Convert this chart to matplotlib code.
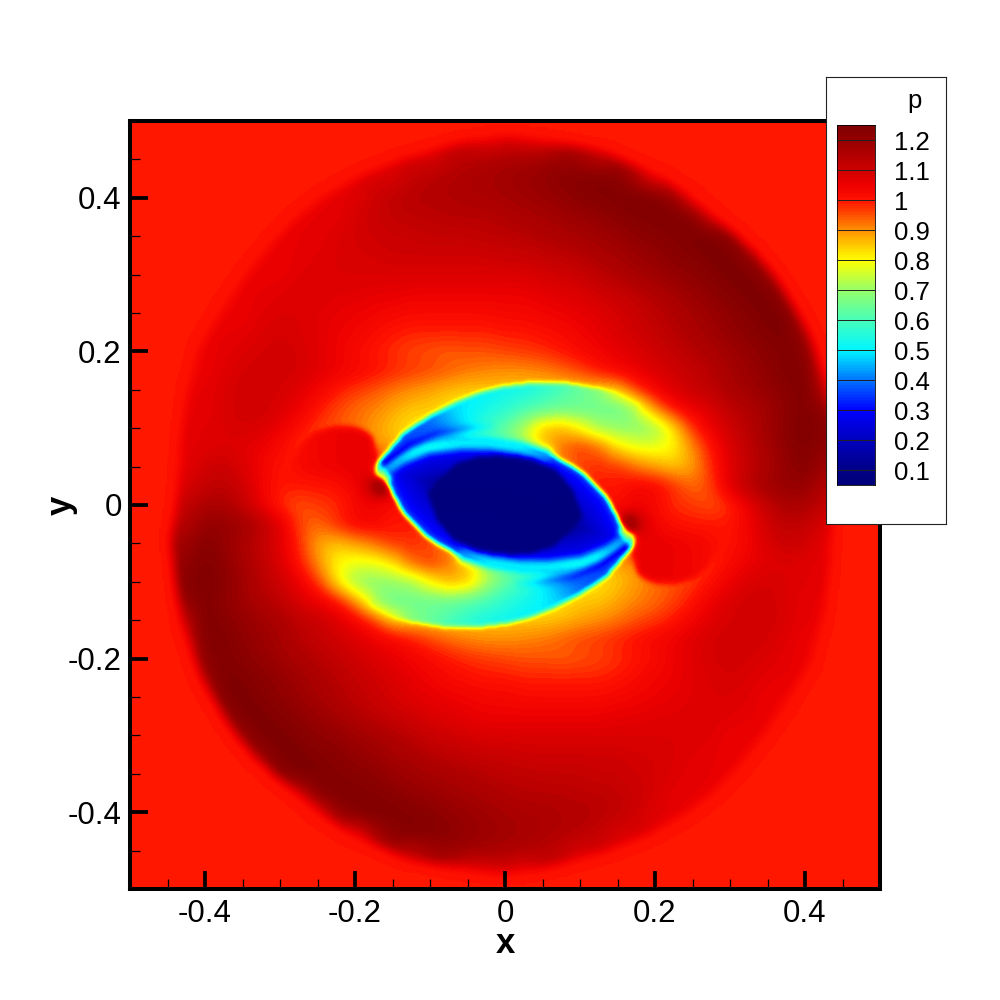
import numpy as np
import matplotlib
matplotlib.use("Agg")
import matplotlib.pyplot as plt
from matplotlib.colors import LinearSegmentedColormap
from matplotlib.path import Path
from matplotlib.ticker import FixedLocator

plt.rcParams['font.family'] = ['Liberation Sans', 'DejaVu Sans']
plt.rcParams['axes.unicode_minus'] = False

# ---- values ----
# outer pressure x100 on a 0.025 grid, x = -0.5 ... 0.5, upper half of the domain
y500 = [100]*41
y475 = [100]*18+[101,105,108,107,105,102]+[100]*17
y450 = [100]*15+[103,108,112,114,115,116,117,118,119,117,112,104]+[100]*14
y425 = [100]*13+[104,108,112,114,115,116,117,118,119,120,122,123,124,122,115,105]+[100]*12
y400 = [100]*11+[103,107,110,113,114,115,115,116,116,117,118,119,120,122,123,124,125,124,118,105]+[100]*10
y375 = [100]*10+[103,106,109,111,112,113,113,114,114,114,115,116,117,118,119,120,122,123,124,125,122,108]+[100]*9
y350 = [100]*8+[101,104,106,108,109,110,111,111,112,112,112,113,113,114,115,116,117,118,119,121,122,123,125,125,120,102]+[100]*7
y325 = [100]*7+[101,104,106,107,108,109,109,110,110,110,110,110,110,111,111,112,113,114,116,117,119,120,122,123,125,125,118,103]+[100]*6
y300 = [100]*7+[103,105,107,108,108,108,108,108,108,108,108,108,108,108,108,109,110,111,113,115,117,118,120,121,123,125,125,118,102]+[100]*5
y275 = [100]*6+[104,106,107,108,108,107,107,106,106,105,105,105,105,105,105,105,106,107,108,110,111,113,115,117,119,121,123,125,125,117,102]+[100]*4
y250 = [100]*5+[102,105,107,108,108,107,106,105,104,103,102,102,102,102,102,103,103,104,105,106,107,109,111,113,115,117,119,121,123,125,124,110]+[100]*4
y225 = [100]*4+[101,104,106,108,109,108,107,105,104,102,100,99,99,99,99,99,100,100,101,102,104,106,108,110,112,114,116,118,120,122,124,125,117,101]+[100]*3
y200 = [100]*3+[100,103,106,108,109,110,109,107,105,102,100,98,96,95,94,95,95,96,97,98,100,102,104,106,108,110,112,114,116,118,120,122,124,122,106]+[100]*3
y175 = [100]*3+[101,105,107,109,110,110,109,107,105,103,101,99,97,96,94,92,91,90,90,91,93,96,100,103,105,108,110,112,114,117,119,121,124,124,110]+[100]*3
y150 = [100]*3+[103,106,108,110,110,109,107,104,100,97,95,92,90,88,86,85,85,85,85,85,85,85,85,85,97,103,108,111,113,116,118,120,122,125,112]+[100]*3
y125 = [100]*3+[102,106,108,110,110,108,105,100,96,93,91,88,85,85,82,80,80,80,80,80,80,78,65,65,72,90,100,105,108,113,115,118,121,124,120,101]+[100]*2
y100 = [100]*3+[103,107,108,109,108,105,101,97,95,93,89,85,82,80,80,80,80,80,80,80,80,78,72,70,68,69,82,97,105,110,114,118,122,125,122,102]+[100]*2
y075 = [100]*3+[104,107,108,107,105,102,98,97,95,93,90,88,85,85,85,85,85,85,85,85,88,96,92,82,78,78,80,90,100,108,113,117,121,124,120,101]+[100]*2
y050 = [100]*3+[106,110,111,108,104,100,102,104,105,106,105,103,100,100,100,100,100,100,98,97,97,97,97,98,92,88,85,88,98,107,112,116,120,123,118,101]+[100]*2
y025 = [100]*3+[108,112,113,110,104,100,100,100,101,104,112,112,108,106,105,105,105,105,105,105,100,100,100,100,103,103,98,93,96,107,114,118,120,120,114,100]+[100]*2
y000 = [100]*3+[112,116,116,112,105,98,95,97,98,102,105,100,103,103,103,103,103,103,103,103,103,103,103,100,105,102,98,97,95,98,105,112,116,116,112,100]+[100]*2
upper_rows = [y000,y025,y050,y075,y100,y125,y150,y175,y200,y225,y250,y275,y300,y325,y350,y375,y400,y425,y450,y475,y500]

# arm field x100, columns x = -0.175 ... 0.2, rows from y = 0 upward
arm_y000 = [35,35,38,42,50,58,62,66,75,85,90,96,100,100,103,103]
arm_y025 = [35,35,38,42,50,58,62,66,75,85,90,96,100,100,103,103]
arm_y050 = [35,35,38,42,50,58,62,66,75,85,90,96,98,98,92,88]
arm_y075 = [35,35,38,42,50,58,62,66,75,85,92,96,92,82,78,78]
arm_y100 = [35,35,36,38,42,50,58,63,72,84,86,80,72,70,68,69]
arm_y125 = [38,40,40,42,47,50,53,56,60,63,65,65,65,65,72,90]
arm_y150 = [40,42,44,46,48,49,50,52,53,56,60,64,68,80,90,98]
arm_y175 = [40,42,44,46,48,50,52,54,56,58,60,62,65,72,80,90]
arm_rows = [arm_y000,arm_y025,arm_y050,arm_y075,arm_y100,arm_y125,arm_y150,arm_y175]

# lobe beside the left tip x100, columns x = -0.3 ... -0.175, rows y = 0.075, 0.1, 0.125
lobe_y075 = [101,102,104,105,106,105]
lobe_y100 = [100,102,104,105,105,105]
lobe_y125 = [100,102,104,105,105,105]
lobe_rows = [lobe_y075,lobe_y100,lobe_y125]

# outlines (picture coordinates, converted below)
ring_x = [178,181,187,200,222,248,270,300,325,360,405,470,500,530,600,660,690,712,735,755,772,785,797,807,815,821,827,832,838,832]
ring_y = [505,450,400,350,313,275,248,217,198,178,160,142,138,139,152,178,198,217,236,255,275,294,313,332,351,371,390,420,470,505]
shock_x = [377,387,403,427,453,477,503,537,567,600,617,643]
shock_y = [465,452,433,417,403,393,386,382,383,388,392,405]
lens_x = [378,380,400,427,460,490,520,553,580,593,607,620,633]
lens_y = [466,468,453,442,438,439,443,455,470,482,497,520,544]
core_x = [427,440,457,480,500,533,557,573]
core_y = [493,478,463,456,455,458,470,490]
lobe_x = [377,370,357,333,313,300,291,300,340,385]
lobe_y = [462,438,430,429,435,447,465,485,500,500]
# rim profile inside the lens: depth in picture pixels, pressure
rim_depth = [0,6,15,28,36,45]
rim_p = [0.36,0.32,0.27,0.22,0.17,0.14]
core_p = 0.07
# thin bands: x, y, p along the band, width
band_rim = ([383,400,427,460,490,520,545],[470,458,447,443,443,447,455],[0.45,0.50,0.52,0.50,0.50,0.50,0.42],5)
band_streak = ([385,410,437,467,490],[462,444,433,428,426],[0.28,0.30,0.34,0.45,0.55],3.5)
band_tip = ([381,386],[474,479],[0.70,0.70],3)
band_spot = ([378,380],[486,489],[1.17,1.17],5)

cbar_ticks = [0.1,0.2,0.3,0.4,0.5,0.6,0.7,0.8,0.9,1,1.1,1.2]
cbar_labels = ['0.1','0.2','0.3','0.4','0.5','0.6','0.7','0.8','0.9','1','1.1','1.2']

# ---- field assembly ----
def dx(px): return (np.asarray(px, float)-505)/750
def dy(py): return (505-np.asarray(py, float))/768

upper = np.array(upper_rows, float)/100
arm_upper = upper.copy()
arm_upper[:8, 13:29] = np.array(arm_rows, float)/100
lobe_upper = upper.copy()
lobe_upper[3:6, 8:14] = np.array(lobe_rows, float)/100

def extend_outside(a):
    """Fill the flat surroundings connected to the border from the ring values."""
    out = (a <= 1.04)
    seen = np.zeros_like(out)
    stack = [(r,c) for r in range(a.shape[0]) for c in range(a.shape[1])
             if (r in (0,a.shape[0]-1) or c in (0,a.shape[1]-1)) and out[r,c]]
    while stack:
        r,c = stack.pop()
        if seen[r,c]: continue
        seen[r,c] = True
        for dr,dc in ((1,0),(-1,0),(0,1),(0,-1)):
            rr,cc = r+dr,c+dc
            if 0<=rr<a.shape[0] and 0<=cc<a.shape[1] and out[rr,cc] and not seen[rr,cc]:
                stack.append((rr,cc))
    b = a.copy(); unk = seen.copy()
    while unk.any():
        new = []
        for r,c in zip(*np.nonzero(unk)):
            vals = [b[r+dr,c+dc] for dr,dc in ((1,0),(-1,0),(0,1),(0,-1))
                    if 0<=r+dr<a.shape[0] and 0<=c+dc<a.shape[1] and not unk[r+dr,c+dc]]
            if vals: new.append((r,c,np.mean(vals)))
        if not new: break
        for r,c,v in new:
            b[r,c] = v; unk[r,c] = False
    return b

lower_part = upper[1:][::-1, ::-1]
full_ext = extend_outside(np.vstack([lower_part, upper]))
arm_ext = extend_outside(np.vstack([lower_part, arm_upper]))
lobe_ext = extend_outside(np.vstack([lower_part, lobe_upper]))
xs = np.linspace(-0.5, 0.5, 41); ys = xs.copy()
N = 481
fx = np.linspace(-0.5, 0.5, N); fy = fx.copy()
XX, YY = np.meshgrid(fx, fy)
pts = np.column_stack([XX.ravel(), YY.ravel()])

def refine(a):
    f = np.array([np.interp(fx, xs, r) for r in a])
    return np.array([np.interp(fy, ys, c) for c in f.T]).T
def blur(a, n, times=2):
    k = np.ones(n)/n
    for _ in range(times):
        p = np.pad(a, n, mode='edge')
        p = np.apply_along_axis(lambda v: np.convolve(v, k, mode='same'), 0, p)
        p = np.apply_along_axis(lambda v: np.convolve(v, k, mode='same'), 1, p)
        a = p[n:-n, n:-n]
    return a
def mask(xv, yv, n):
    m = Path(np.column_stack([xv, yv])).contains_points(pts).reshape(N, N).astype(float)
    return blur(m, n) if n > 1 else m
def closed(xv, yv):
    # close an upper outline with its point-symmetric twin
    return np.r_[xv, -xv], np.r_[yv, -yv]
def polyline_distance(xv, yv, vals=None):
    t = np.linspace(0, len(xv)-1, 500)
    i = np.arange(len(xv))
    lx, ly = np.interp(t, i, xv), np.interp(t, i, yv)
    lv = np.interp(t, i, vals) if vals is not None else None
    x0, x1 = lx.min()-0.06, lx.max()+0.06
    y0, y1 = ly.min()-0.06, ly.max()+0.06
    jj = np.nonzero((fx>=x0)&(fx<=x1))[0]; ii = np.nonzero((fy>=y0)&(fy<=y1))[0]
    gx, gy = np.meshgrid(fx[jj]*750, fy[ii]*768)
    d2 = (gx[...,None]-lx*750)**2 + (gy[...,None]-ly*768)**2
    near = d2.argmin(-1)
    d = np.sqrt(np.take_along_axis(d2, near[...,None], -1))[...,0]
    return ii, jj, d, (lv[near] if lv is not None else None)

P0 = blur(refine(full_ext), 11)
ring_xv, ring_yv = closed(dx(ring_x), dy(ring_y))
F = 1.0 + (P0-1.0)*mask(ring_xv, ring_yv, 7)

# lobes beside the tips
B = blur(refine(lobe_ext), 7)
m_b = mask(dx(lobe_x), dy(lobe_y), 4)
F = F*(1-m_b) + B*m_b
m_b2 = m_b[::-1, ::-1]
F = F*(1-m_b2) + B[::-1, ::-1]*m_b2

# upper and lower arms, bounded by the sharp front
A = blur(refine(arm_ext), 7)
sx, sy = dx(shock_x), dy(shock_y)
ax_v = np.r_[sx, dx([618,593,560,505,400])]
ay_v = np.r_[sy, dy([443,482,490,505,475])]
m_up = mask(ax_v, ay_v, 3)
F = F*(1-m_up) + A*m_up
m_lo = m_up[::-1, ::-1]
F = F*(1-m_lo) + A[::-1, ::-1]*m_lo

# lens with rim profile and dark core
lens_xv, lens_yv = closed(dx(lens_x), dy(lens_y))
m_lens = mask(lens_xv, lens_yv, 3)
ii, jj, depth, _ = polyline_distance(lens_xv, lens_yv)
L = np.full_like(F, rim_p[-1])
L[np.ix_(ii, jj)] = np.interp(depth, rim_depth, rim_p)
core_xv, core_yv = closed(dx(core_x), dy(core_y))
m_core = mask(core_xv, core_yv, 3)
L = L*(1-m_core) + core_p*m_core
F = F*(1-m_lens) + L*m_lens

# thin bands, painted with the point-symmetric twin
for bx, by, bp, w in (band_rim, band_streak, band_tip, band_spot):
    for sgn in (1, -1):
        ii, jj, d, v = polyline_distance(sgn*dx(bx), sgn*dy(by), bp)
        a = np.exp(-d**2/(2*w**2))
        sub = F[np.ix_(ii, jj)]
        F[np.ix_(ii, jj)] = sub*(1-a) + v*a
F = blur(F, 3, times=1)

stops = [
 (0.05,(0,0,120)),(0.10,(0,0,135)),(0.20,(0,0,190)),(0.30,(0,0,255)),
 (0.40,(0,115,255)),(0.50,(0,245,255)),(0.60,(70,255,185)),(0.70,(150,255,105)),
 (0.80,(255,255,0)),(0.90,(255,145,0)),(1.00,(255,18,0)),(1.05,(238,0,0)),
 (1.10,(208,0,0)),(1.20,(150,0,0)),(1.25,(125,0,0))]
lo, hi = stops[0][0], stops[-1][0]
cmap = LinearSegmentedColormap.from_list('tec', [((v-lo)/(hi-lo), tuple(c/255 for c in rgb)) for v, rgb in stops], N=512)

W = 1000.0
fig = plt.figure(figsize=(10,10), dpi=100, facecolor='white')
ax = fig.add_axes([130/W, (1000-889)/W, 750/W, 768/W])
levels = np.arange(0.05, 1.2501, 0.01)
cs = ax.contourf(fx, fy, np.clip(F, 0.0501, 1.2499), levels=levels, cmap=cmap, vmin=lo, vmax=hi)
ax.set_xlim(-0.5,0.5); ax.set_ylim(-0.5,0.5)

major = [-0.4,-0.2,0,0.2,0.4]
minor = [round(-0.45+0.05*i,2) for i in range(19) if round(-0.45+0.05*i,2) not in major]
for axis in (ax.xaxis, ax.yaxis):
    axis.set_major_locator(FixedLocator(major))
    axis.set_minor_locator(FixedLocator(minor))
    axis.set_ticklabels(['-0.4','-0.2','0','0.2','0.4'])
ax.tick_params(which='major', direction='in', length=13, width=2.7, labelsize=22.5, top=False, right=False)
ax.tick_params(which='minor', direction='in', length=7, width=0.9, top=False, right=False)
ax.tick_params(axis='x', which='major', pad=7)
ax.tick_params(axis='y', which='major', pad=6)
for s in ax.spines.values():
    s.set_linewidth(2.9)
ax.set_xlabel('x', fontsize=25, fontweight='bold')
ax.set_ylabel('y', fontsize=25, fontweight='bold')
ax.xaxis.set_label_coords(0.5, -0.049)
ax.yaxis.set_label_coords(-0.07, 0.5)

# legend box
box_ax = fig.add_axes([826/W, (1000-524)/W, 120/W, 447/W], facecolor='white', zorder=5)
box_ax.set_xticks([]); box_ax.set_yticks([])
for s in box_ax.spines.values():
    s.set_linewidth(0.8); s.set_color('#222222')
box_ax.text(0.74, 0.946, 'p', transform=box_ax.transAxes, ha='center', va='center', fontsize=18.5)

cax = fig.add_axes([837/W, (1000-485)/W, 38/W, 360/W], zorder=6)
bar_edges = np.linspace(lo, hi, 241)
bar_vals = 0.5*(bar_edges[1:]+bar_edges[:-1])
cax.pcolormesh([0,1], bar_edges, bar_vals[:,None], cmap=cmap, vmin=lo, vmax=hi)
cax.hlines(cbar_ticks, 0, 1, colors='#222222', linewidth=0.7)
cax.set_xlim(0,1); cax.set_ylim(lo, hi)
cax.set_xticks([])
cax.yaxis.tick_right()
cax.set_yticks(cbar_ticks)
cax.set_yticklabels(cbar_labels)
cax.tick_params(axis='y', length=0, labelsize=18.5, pad=14)
for s in cax.spines.values():
    s.set_linewidth(0.6)

fig.savefig('out.png', dpi=100)
